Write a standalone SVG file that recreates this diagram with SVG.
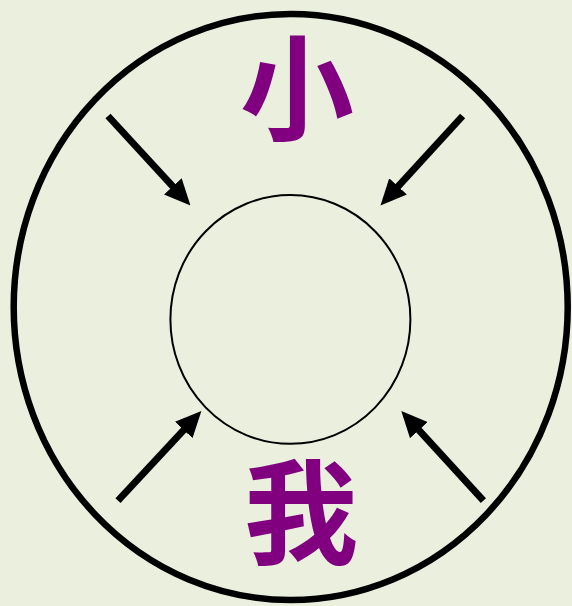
<svg xmlns="http://www.w3.org/2000/svg" width="572" height="606" viewBox="0 0 572 606">
<style>
.bg{fill:#EBF0DE}
.ring{fill:none;stroke:#000}
.arrow{stroke:#000;stroke-width:7;fill:none;marker-end:url(#head)}
.lbl{font-family:"Noto Sans CJK SC","Noto Sans CJK TC",sans-serif;font-weight:bold;fill:#800080;text-anchor:middle}
</style>
<defs>
<marker id="head" markerUnits="userSpaceOnUse" markerWidth="26" markerHeight="24" refX="6" refY="12" orient="auto" viewBox="0 0 26 24">
<path d="M0,0 L26,12 L0,24 z" fill="#000"/>
</marker>
</defs>
<rect class="bg" x="0" y="0" width="572" height="606"/>
<g id="outer"><ellipse class="ring" cx="290.7" cy="307" rx="277" ry="293" stroke-width="6.5"/></g>
<g id="inner"><ellipse class="ring" cx="290.4" cy="319.4" rx="120" ry="124.4" stroke-width="2"/></g>
<g id="label-top"><text class="lbl" x="297" y="131" font-size="114">小</text></g>
<g id="label-bottom"><text class="lbl" x="301" y="555" font-size="114">我</text></g>
<g id="connectors">
<line class="arrow" x1="108" y1="116" x2="176.9" y2="190.8"/>
<line class="arrow" x1="462.6" y1="116" x2="394" y2="190.8"/>
<line class="arrow" x1="118" y1="500.6" x2="187.8" y2="425.6"/>
<line class="arrow" x1="483.4" y1="500.6" x2="414.8" y2="425.7"/>
</g>
</svg>
